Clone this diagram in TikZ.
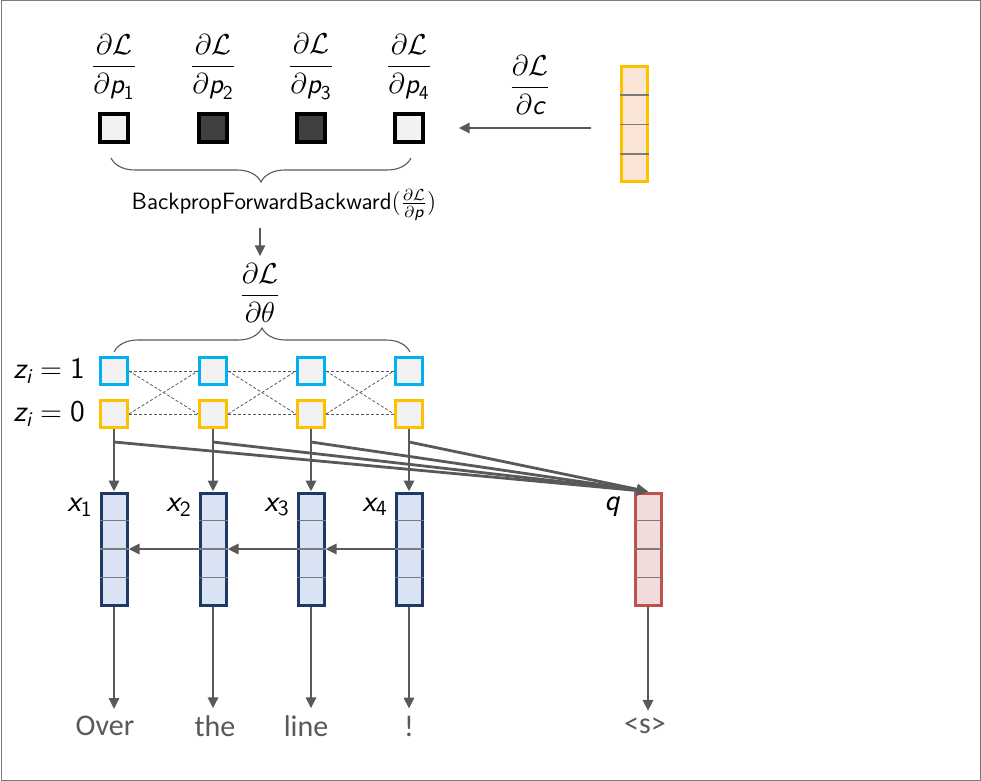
\documentclass[tikz,border=0pt]{standalone}
\usepackage{amsmath,amssymb}
\usepackage{fontspec}
\newfontfamily\wordfont{Carlito}
\usepackage{tikz}
\usetikzlibrary{arrows.meta,calc,decorations.pathreplacing}
\definecolor{GateGrey}{HTML}{595959}
\definecolor{GateLight}{HTML}{F2F2F2}
\definecolor{GateDark}{HTML}{404040}
\definecolor{GateBlue}{HTML}{00B0F0}
\definecolor{GateYellow}{HTML}{FFC000}
\definecolor{VecFill}{HTML}{DAE3F3}
\definecolor{VecNavy}{HTML}{1F3864}
\definecolor{QFill}{HTML}{F2DCDB}
\definecolor{QRed}{HTML}{C0504D}
\definecolor{CFill}{HTML}{FBE5D6}
\newcommand{\sv}[1]{\text{\sffamily\itshape #1}}
\newcommand{\sn}[1]{\text{\sffamily #1}}
\newcommand{\dLd}[1]{\dfrac{\partial\mathcal{L}}{\partial #1}}

\begin{document}
\begin{tikzpicture}[x=0.5pt,y=-0.5pt,
  frac/.style={font=\fontsize{14}{17}\selectfont},
  sq/.style={draw,line width=1.6pt,minimum size=14pt,inner sep=0pt},
  gate/.style={draw,line width=1.5pt,fill=GateLight,minimum size=13.5pt,inner sep=0pt},
  vec/.style={draw,line width=1.5pt,minimum width=13pt,minimum height=56pt,inner sep=0pt},
  divider/.style={GateGrey!80,line width=0.7pt},
  arrow/.style={-{Triangle[length=5.5pt,width=5pt]},line width=1.4pt,GateGrey},
  cross/.style={dash pattern=on 1.5pt off 1pt,GateGrey,line width=0.4pt},
  brace/.style={decorate,decoration={brace,amplitude=12pt},line width=0.55pt,GateGrey},
  word/.style={text=GateGrey,font=\wordfont\fontsize{15}{18}\selectfont}]
  \useasboundingbox (0,0) rectangle (981,781);
  \draw[GateGrey!80,line width=0.5pt] (1,1) rectangle (980,780);

  % posterior marginals on top
  \foreach \i/\x/\f in {1/114/GateLight,2/213/GateDark,3/311/GateDark,4/409/GateLight} {
    \node[frac] (dp\i) at (\x,67) {$\dLd{\sv{p}_{\sn{\i}}}$};
    \node[sq,fill=\f] (p\i) at (\x,128) {};
  }
  \node[vec,minimum height=57.5pt,draw=GateYellow,fill=CFill] (c) at (634.5,124.5) {};
  \foreach \f in {0.25,0.5,0.75}
    \draw[divider] ($(c.north west)!\f!(c.south west)$) -- ($(c.north east)!\f!(c.south east)$);
  \node[frac] (dc) at (530,85) {$\dLd{\sv{c}}$};
  \draw[arrow,shorten <=14.5pt,shorten >=17pt] (c.west |- p4) -- (p4.east);

  \draw[brace] (411,158) -- (111,158);
  \node[font=\sffamily\fontsize{11.8}{14}\selectfont] (bpfb) at (284,205)
    {BackpropForwardBackward$(\frac{\partial\mathcal{L}}{\partial\sv{p}})$};
  \node[frac] (dtheta) at (260,293) {$\dLd{\theta}$};
  \draw[arrow] (bpfb.south -| dtheta) -- (dtheta.north);
  \draw[brace] (114,352) -- (410,352);

  % gate lattice
  \node[font=\fontsize{15}{18}\selectfont] (z1) at (49,371) {$\sv{z}_{\sv{i}}=\sn{1}$};
  \node[font=\fontsize{15}{18}\selectfont] (z0) at (49,414) {$\sv{z}_{\sv{i}}=\sn{0}$};
  \foreach \i/\x in {1/114,2/213,3/311,4/409} {
    \node[gate,draw=GateBlue] (t\i) at (\x,371) {};
    \node[gate,draw=GateYellow] (b\i) at (\x,414) {};
  }
  \foreach \i/\j in {1/2,2/3,3/4} {
    \draw[cross] (t\i.east) -- (t\j.west);
    \draw[cross] (b\i.east) -- (b\j.west);
    \draw[cross] (t\i.east) -- (b\j.west);
    \draw[cross] (b\i.east) -- (t\j.west);
  }

  % encoder states and query
  \node[vec,draw=QRed,fill=QFill] (q) at (648,549) {};
  \foreach \f in {0.25,0.5,0.75}
    \draw[divider] ($(q.north west)!\f!(q.south west)$) -- ($(q.north east)!\f!(q.south east)$);
  \node[font=\fontsize{15.5}{18}\selectfont] (ql) at (612,507) {$\sv{q}$};
  \node[word] (ws) at (645,726) {<s>};
  \draw[arrow] (q.south) -- (q.south |- ws.north);

  \foreach \i/\x/\wx/\w in {1/114/105/Over,2/213/215/the,3/311/306/line,4/409/409/!} {
    \node[vec,draw=VecNavy,fill=VecFill] (x\i) at (\x,549) {};
    \foreach \f in {0.25,0.5,0.75}
      \draw[divider] ($(x\i.north west)!\f!(x\i.south west)$) -- ($(x\i.north east)!\f!(x\i.south east)$);
    \node[font=\fontsize{15.5}{18}\selectfont] (xl\i) at (\x-34,507) {$\sv{x}_{\sn{\i}}$};
    \node[word] (w\i) at (\wx,726) {\w};
    \coordinate (s\i) at ($(b\i.south)+(0,13)$);
    \draw[arrow] (b\i.south) -- (x\i.north);
    \draw[arrow] (s\i) -- (q.north);
    \draw[arrow] (x\i.south) -- (x\i.south |- w\i.north);
  }
  \foreach \i/\j in {2/1,3/2,4/3}
    \draw[arrow] (x\i.west) -- (x\j.east);
\end{tikzpicture}
\end{document}
